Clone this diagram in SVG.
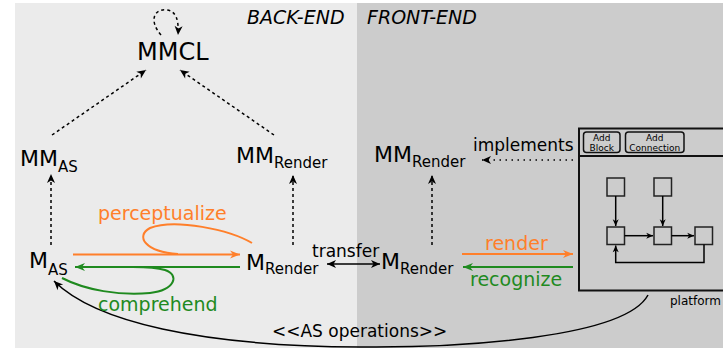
<svg xmlns="http://www.w3.org/2000/svg" width="723" height="348" viewBox="0 0 723 348">
<style>
text{font-family:"DejaVu Sans","Liberation Sans",sans-serif;fill:#000}
.node{font-size:22px}
.sub{font-size:15px}
.hdr{font-size:19px;font-style:italic}
.dash{fill:none;stroke:#000;stroke-width:1.5;stroke-dasharray:3,3}
.dot{fill:none;stroke:#000;stroke-width:1.5;stroke-dasharray:1.5,4.5}
.solid{fill:none;stroke:#000;stroke-width:1.5}
.or{fill:none;stroke:#ff7f2a;stroke-width:2}
.gr{fill:none;stroke:#1f8a1f;stroke-width:2}
.box{fill:none;stroke:#222;stroke-width:1.5}
</style>
<defs>
<marker id="ah" viewBox="-10 -5 12 10" refX="0" refY="0" markerWidth="12" markerHeight="10" markerUnits="userSpaceOnUse" orient="auto-start-reverse"><path d="M0,0 L-9,-4 L-6.5,0 L-9,4 Z" fill="#000"/></marker>
<marker id="ahs" viewBox="-10 -5 12 10" refX="0" refY="0" markerWidth="9" markerHeight="7.5" markerUnits="userSpaceOnUse" orient="auto-start-reverse"><path d="M0,0 L-9,-4 L-6.5,0 L-9,4 Z" fill="#000"/></marker>
<marker id="aho" viewBox="-10 -5 12 10" refX="0" refY="0" markerWidth="12" markerHeight="10" markerUnits="userSpaceOnUse" orient="auto"><path d="M0,0 L-10,-4 L-7,0 L-10,4 Z" fill="#ff7f2a"/></marker>
<marker id="ahg" viewBox="-10 -5 12 10" refX="0" refY="0" markerWidth="12" markerHeight="10" markerUnits="userSpaceOnUse" orient="auto"><path d="M0,0 L-10,-4 L-7,0 L-10,4 Z" fill="#1f8a1f"/></marker>
</defs>
<g id="background">
<rect x="0" y="0" width="723" height="348" fill="#fff"/>
<rect x="15" y="3" width="342" height="345" fill="#ebebeb"/>
<rect x="357" y="3" width="366" height="345" fill="#cccccc"/>
<text class="hdr" x="247" y="24">BACK-END</text>
<text class="hdr" x="367" y="24">FRONT-END</text>
</g>
<g id="connectors">
<path class="dash" d="M161,35 C148,20 155,8 167,10 C176,11 179,20 178,35" marker-end="url(#ah)"/>
<path class="dash" d="M52,135 L146,70" marker-end="url(#ah)"/>
<path class="dash" d="M274,135 L180,70" marker-end="url(#ah)"/>
<path class="dash" d="M51,245 L51,174" marker-end="url(#ah)"/>
<path class="dash" d="M293,245 L293,175" marker-end="url(#ah)"/>
<path class="dash" d="M432,245 L432,175" marker-end="url(#ah)"/>
<path class="dot" d="M573,160 L482,160" marker-end="url(#ah)"/>
<path class="solid" d="M327,264 L380,264" marker-start="url(#ah)" marker-end="url(#ah)"/>
<path class="or" d="M73,254.5 L240,254.5" marker-end="url(#aho)"/>
<path class="or" d="M252,243 C230,230 175,218 150,228 C135,236 145,252 178,254"/>
<path class="gr" d="M240,267 L75,267" marker-end="url(#ahg)"/>
<path class="gr" d="M62,278 C85,290 120,296 150,293 C175,290 180,275 165,270 C155,267 140,267 133,267"/>
<path class="or" d="M462,254 L573,254" marker-end="url(#aho)"/>
<path class="gr" d="M573,267 L463,267" marker-end="url(#ahg)"/>
<path class="solid" d="M648,295 C625,338 460,348 360,347 C200,346 95,322 54,281" marker-end="url(#ah)"/>
</g>
<g id="MMCL"><text x="137" y="60" font-size="24">MMCL</text></g>
<g id="MM_AS"><text class="node" x="20" y="166">MM<tspan class="sub" dy="6">AS</tspan></text></g>
<g id="MM_Render_back"><text class="node" x="236" y="163">MM<tspan class="sub" dy="5">Render</tspan></text></g>
<g id="MM_Render_front"><text class="node" x="374" y="162">MM<tspan class="sub" dy="5">Render</tspan></text></g>
<g id="M_AS"><text class="node" x="29" y="268">M<tspan class="sub" dy="7">AS</tspan></text></g>
<g id="M_Render_back"><text class="node" x="246" y="270">M<tspan class="sub" dy="4">Render</tspan></text></g>
<g id="M_Render_front"><text class="node" x="381" y="269">M<tspan class="sub" dy="5">Render</tspan></text></g>
<g id="labels">
<text x="98" y="220" font-size="19" fill="#ff7f2a" style="fill:#ff7f2a">perceptualize</text>
<text x="98" y="311" font-size="19" style="fill:#1f8a1f">comprehend</text>
<text x="312" y="257" font-size="17">transfer</text>
<text x="485" y="250" font-size="19" style="fill:#ff7f2a">render</text>
<text x="470" y="286" font-size="19" style="fill:#1f8a1f">recognize</text>
<text x="473" y="151" font-size="17">implements</text>
<text x="272" y="337" font-size="17">&lt;&lt;AS operations&gt;&gt;</text>
</g>
<g id="platform">
<rect x="579" y="128.5" width="160" height="162" fill="none" stroke="#111" stroke-width="2"/>
<line x1="579" y1="156" x2="723" y2="156" stroke="#111" stroke-width="2"/>
<rect x="583.5" y="132" width="36.5" height="20.5" rx="3" fill="none" stroke="#111" stroke-width="1.5"/>
<text x="601.7" y="141" font-size="9" text-anchor="middle">Add</text>
<text x="601.7" y="150.5" font-size="9" text-anchor="middle">Block</text>
<rect x="625.5" y="132" width="58.5" height="20.5" rx="3" fill="none" stroke="#111" stroke-width="1.5"/>
<text x="654.7" y="141" font-size="9" text-anchor="middle">Add</text>
<text x="654.7" y="150.5" font-size="9" text-anchor="middle">Connection</text>
<rect class="box" x="607" y="178" width="17.5" height="18"/>
<rect class="box" x="654" y="178" width="17.5" height="18"/>
<rect class="box" x="607" y="227" width="17.5" height="17.5"/>
<rect class="box" x="654" y="227" width="17.5" height="17.5"/>
<rect class="box" x="695" y="227" width="17.5" height="17.5"/>
<path class="solid" d="M615.7,196 L615.7,226" marker-end="url(#ahs)"/>
<path class="solid" d="M662.7,196 L662.7,226" marker-end="url(#ahs)"/>
<path class="solid" d="M624.5,235.7 L653,235.7" marker-end="url(#ahs)"/>
<path class="solid" d="M671.5,235.7 L694,235.7" marker-end="url(#ahs)"/>
<path class="solid" d="M704,244.5 L704,262.5 L615.7,262.5 L615.7,245.5" marker-end="url(#ahs)"/>
<text x="670" y="305" font-size="12">platform</text>
</g>
</svg>
